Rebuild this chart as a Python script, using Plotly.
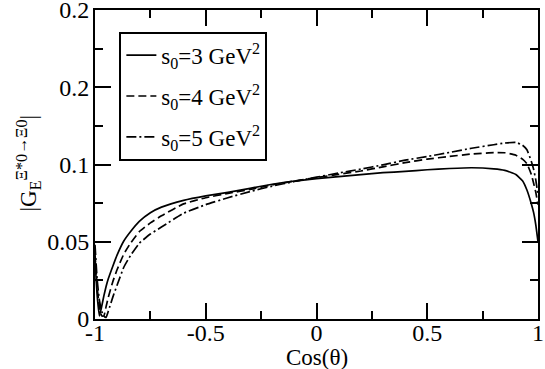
import plotly.graph_objects as go

# Shared abscissa: Cos(theta)
cos_theta = [-1.0, -0.99, -0.98, -0.97, -0.96, -0.95, -0.94, -0.92, -0.90, -0.87,
             -0.84, -0.80, -0.75, -0.70, -0.60, -0.50, -0.40, -0.30, -0.20, -0.10,
             0.00, 0.10, 0.20, 0.30, 0.40, 0.50, 0.60, 0.70, 0.80, 0.85,
             0.90, 0.93, 0.95, 0.97, 0.98, 0.99, 1.00]

# |G_E| for s0 = 3 GeV^2
g_s0_3 = [0.038, 0.015, 0.002, 0.008, 0.015, 0.021, 0.026, 0.034, 0.0415, 0.0505,
          0.0565, 0.0632, 0.0688, 0.0724, 0.0768, 0.0797, 0.0820, 0.0846, 0.0872, 0.0893,
          0.0908, 0.0921, 0.0934, 0.0947, 0.0955, 0.0966, 0.0974, 0.0979, 0.0972, 0.0962,
          0.0935, 0.0895, 0.0835, 0.0745, 0.0690, 0.0610, 0.0500]

# |G_E| for s0 = 4 GeV^2
g_s0_4 = [0.042, 0.020, 0.008, 0.002, 0.002, 0.008, 0.014, 0.024, 0.032, 0.0420,
          0.0490, 0.0565, 0.0622, 0.0668, 0.0745, 0.0785, 0.0813, 0.0838, 0.0868, 0.0893,
          0.0915, 0.0936, 0.0958, 0.0985, 0.1012, 0.1035, 0.1052, 0.1068, 0.1077, 0.1076,
          0.1060, 0.1035, 0.1005, 0.0935, 0.0880, 0.0820, 0.0740]

# |G_E| for s0 = 5 GeV^2
g_s0_5 = [0.048, 0.025, 0.012, 0.005, 0.002, 0.001, 0.005, 0.014, 0.022, 0.0335,
          0.0410, 0.0490, 0.0550, 0.0595, 0.0685, 0.0740, 0.0785, 0.0825, 0.0860, 0.0890,
          0.0918, 0.0945, 0.0970, 0.0998, 0.1028, 0.1052, 0.1078, 0.1105, 0.1128, 0.1139,
          0.1143, 0.1125, 0.1095, 0.1020, 0.0970, 0.0900, 0.0800]

series_names = ["s<sub>0</sub>=3 GeV<sup>2</sup>",
                "s<sub>0</sub>=4 GeV<sup>2</sup>",
                "s<sub>0</sub>=5 GeV<sup>2</sup>"]

x_tickvals = [-1, -0.5, 0, 0.5, 1]
x_ticktext = ["-1", "-0.5", "0", "0.5", "1"]
y_tickvals = [0, 0.05, 0.1, 0.15, 0.2]
y_ticktext = ["0", "0.05", "0.1", "0.2", "0.2"]

x_title = "Cos(θ)"
y_title = "|G<sub>E</sub><sup>Ξ*0→Ξ0</sup>|"

FONT = "Liberation Serif"

fig = go.Figure()
dashes = ["solid", "8px,4px", "10px,3px,2px,3px"]
for i, (name, vals, dash) in enumerate(zip(series_names, [g_s0_3, g_s0_4, g_s0_5], dashes)):
    fig.add_trace(go.Scatter(x=cos_theta, y=vals, mode="lines", name=name,
                             legendgroup=f"g{i}",
                             line=dict(color="black", width=1.7, dash=dash,
                                       shape="spline", smoothing=0.4)))

axis_common = dict(showgrid=False, zeroline=False, showline=True, linecolor="black",
                   linewidth=2, mirror="ticks", ticks="inside", ticklen=16,
                   tickwidth=2, tickcolor="black", automargin=False,
                   ticklabeloverflow="allow",
                   tickfont=dict(family=FONT, size=24, color="black"))

fig.update_xaxes(range=[-1, 1], tickmode="array", tickvals=x_tickvals,
                 ticktext=x_ticktext, ticklabelstandoff=-9,
                 minor=dict(ticks="inside", ticklen=8, tickwidth=2,
                            tickcolor="black", dtick=0.25, tick0=0),
                 **axis_common)
fig.update_yaxes(range=[0, 0.2], tickmode="array", tickvals=y_tickvals,
                 ticktext=y_ticktext, ticklabelstandoff=-1,
                 minor=dict(ticks="inside", ticklen=8, tickwidth=2,
                            tickcolor="black", dtick=0.025, tick0=0),
                 **axis_common)

fig.add_annotation(text=x_title, xref="paper", yref="paper", x=0.5, y=-0.125,
                   xanchor="center", yanchor="middle", showarrow=False,
                   font=dict(family=FONT, size=23, color="black"))
fig.add_annotation(text=y_title, xref="paper", yref="paper", x=-0.15, y=0.505,
                   xanchor="center", yanchor="middle", showarrow=False, textangle=-90,
                   font=dict(family=FONT, size=23, color="black"))

fig.update_layout(
    template="none",
    width=545, height=369,
    margin=dict(l=95, r=7, t=10, b=50, pad=0),
    paper_bgcolor="white", plot_bgcolor="white",
    font=dict(family=FONT, size=23, color="black"),
    legend=dict(x=0.055, y=0.93, xanchor="left", yanchor="top",
                bgcolor="white", bordercolor="black", borderwidth=2,
                font=dict(family=FONT, size=23, color="black"),
                tracegroupgap=8, itemwidth=30),
    showlegend=True,
)

fig.write_html("out.html", config={"displayModeBar": False},
               post_script="document.body.style.margin='0';document.body.style.padding='0';")
